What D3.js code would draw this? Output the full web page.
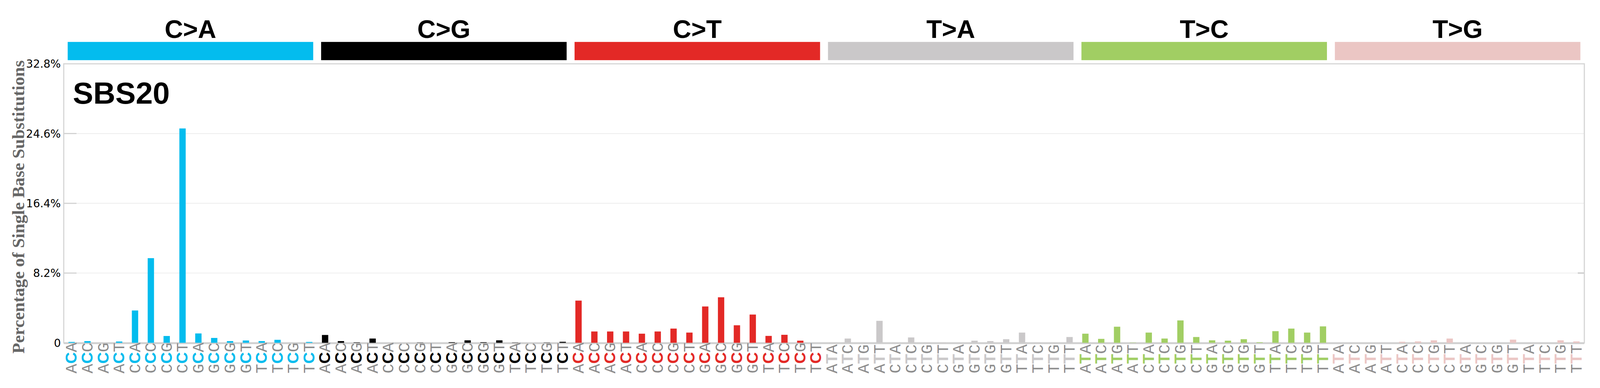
<!DOCTYPE html>
<html><head><meta charset="utf-8">
<script src="https://cdn.jsdelivr.net/npm/d3@7"></script>
<style>html,body{margin:0;padding:0;background:#fff;overflow:hidden}svg{display:block;width:100vw;height:100vh}</style></head>
<body><svg id="c" viewBox="0 0 4393 992" preserveAspectRatio="xMidYMid meet"></svg>
<script>
const mutationTypes = ["C>A","C>G","C>T","T>A","T>C","T>G"];
const typeColors = ["#03BCEE","#000000","#E32926","#CAC8C9","#A1CE63","#EBC6C4"];
const contexts = ["A_A","A_C","A_G","A_T","C_A","C_C","C_G","C_T","G_A","G_C","G_G","G_T","T_A","T_C","T_G","T_T"];
const valCA = [0.1,0.2,0,0.15,3.8,9.95,0.8,25.2,1.1,0.57,0.2,0.27,0.2,0.35,0,0.1];
const valCG = [0.92,0.2,0.05,0.5,0,0,0.03,0,0.07,0.29,0.07,0.29,0.03,0,0.03,0.12];
const valCT = [4.96,1.33,1.33,1.33,1.07,1.33,1.67,1.2,4.27,5.35,2.06,3.32,0.81,0.94,0.25,0];
const valTA = [0.03,0.5,0.03,2.58,0.03,0.63,0.03,0.03,0,0.25,0.2,0.42,1.2,0.03,0.03,0.68];
const valTC = [1.07,0.46,1.89,0.03,1.2,0.5,2.63,0.68,0.29,0.25,0.42,0.07,1.37,1.67,1.2,1.93];
const valTG = [0,0,0,0,0.12,0.16,0.29,0.5,0,0,0,0.37,0,0,0.29,0.16];
const yTicks = [0,8.2,16.4,24.6,32.8];
const signatureName = "SBS20";
const yTitle = "Percentage of Single Base Substitutions";

const series=[valCA,valCG,valCT,valTA,valTC,valTG];
const data=[];
mutationTypes.forEach((t,ti)=>contexts.forEach((c,ci)=>data.push({t:ti,key:t+c,left:c[0],mid:t[0],right:c[2],v:series[ti][ci]})));

const svg=d3.select("#c");
const L=175,R=4350,T=139,B=904;
const x=d3.scaleBand().domain(data.map(d=>d.key)).range([L,R]).paddingInner(0.6).paddingOuter(0.3);
const y=d3.scaleLinear().domain([0,32.8]).range([B,T]);

svg.append("g").selectAll("line").data(yTicks.slice(1,4)).join("line")
 .attr("x1",L).attr("x2",R).attr("y1",d=>y(d)).attr("y2",d=>y(d)).attr("stroke","#ececec").attr("stroke-width",2);
svg.append("g").selectAll("line").data(yTicks.slice(1,4)).join("line")
 .attr("x1",L).attr("x2",L+35).attr("y1",d=>y(d)).attr("y2",d=>y(d)).attr("stroke","#d0d0d0").attr("stroke-width",3);
svg.append("line").attr("x1",R-18).attr("x2",R).attr("y1",y(8.2)).attr("y2",y(8.2)).attr("stroke","#d0d0d0").attr("stroke-width",4);
svg.append("rect").attr("x",L).attr("y",T).attr("width",R-L).attr("height",B-T).attr("fill","none").attr("stroke","#d4d4d4").attr("stroke-width",3);
svg.append("line").attr("x1",L).attr("x2",R).attr("y1",B+1).attr("y2",B+1).attr("stroke","#d0d0d0").attr("stroke-width",5);

svg.append("g").selectAll("text").data(yTicks).join("text")
 .attr("x",L-8).attr("y",d=>y(d)+11).attr("text-anchor","end")
 .attr("font-family","DejaVu Sans").attr("font-size",30).text(d=>d===0?"0":d.toFixed(1)+"%");
svg.append("text").attr("transform",`translate(66,${(T+B)/2+10}) rotate(-90)`).attr("text-anchor","middle")
 .attr("font-family","Liberation Serif").attr("font-weight","bold").attr("font-size",48).attr("fill","#666").text(yTitle);

svg.append("g").selectAll("rect").data(data).join("rect")
 .attr("x",d=>x(d.key)).attr("width",x.bandwidth()).attr("y",d=>y(d.v)).attr("height",d=>B-y(d.v))
 .attr("fill",d=>typeColors[d.t]);

const step=x.step();
mutationTypes.forEach((t,ti)=>{
  const x0=x(data[ti*16].key)-step*0.05, x1=x(data[ti*16+15].key)+x.bandwidth()+step*0.05;
  svg.append("rect").attr("x",x0).attr("y",79).attr("width",x1-x0).attr("height",50).attr("fill",typeColors[ti]);
  svg.append("text").attr("x",(x0+x1)/2).attr("y",68).attr("text-anchor","middle")
   .attr("font-family","Liberation Sans").attr("font-weight","bold").attr("font-size",70).text(t);
});

svg.append("text").attr("x",200).attr("y",248).attr("font-family","Liberation Sans").attr("font-weight","bold").attr("font-size",84).text(signatureName);

const lab=svg.append("g").selectAll("text").data(data).join("text")
 .attr("transform",d=>`translate(${x(d.key)+x.bandwidth()/2+14},988) rotate(-90)`)
 .attr("font-family","Liberation Mono").attr("font-size",44);
lab.append("tspan").attr("fill","#8c8c8c").text(d=>d.left);
lab.append("tspan").attr("fill",d=>typeColors[d.t]).attr("font-weight","bold").attr("font-family","Liberation Sans").text(d=>d.mid);
lab.append("tspan").attr("fill","#8c8c8c").text(d=>d.right);
</script></body></html>
